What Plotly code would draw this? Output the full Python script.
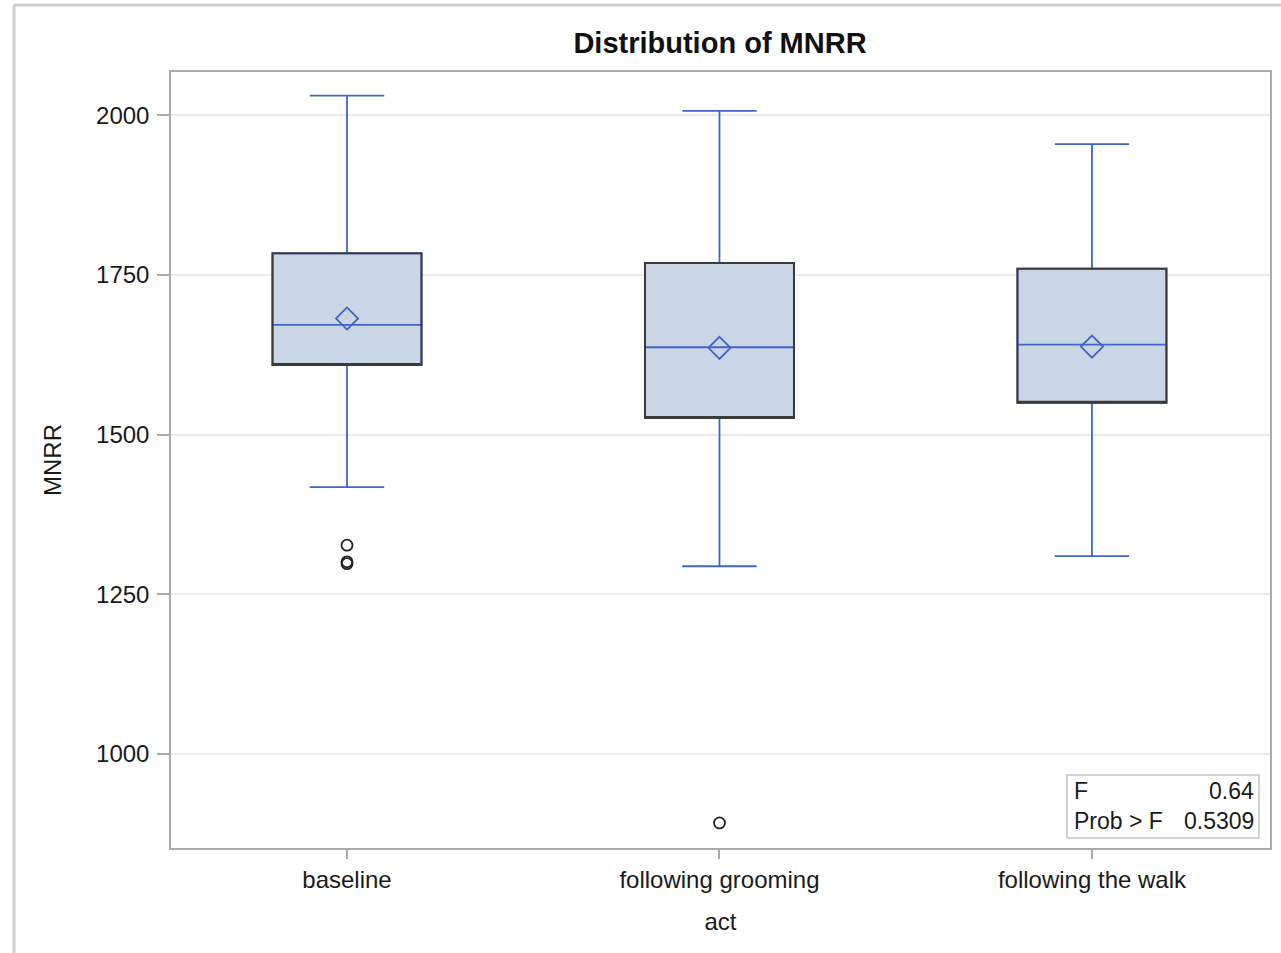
import plotly.graph_objects as go

# ---- data ----
categories = ["baseline", "following grooming", "following the walk"]
q1 = [1609, 1526, 1550]
median = [1672, 1637, 1641]
q3 = [1784, 1769, 1760]
lower_whisker = [1418, 1294, 1310]
upper_whisker = [2031, 2007, 1955]
means = [1682, 1636, 1638]
outlier_cats = ["baseline", "baseline", "baseline", "following grooming"]
outlier_vals = [1327, 1301, 1298, 892]
f_value = "0.64"
prob_f = "0.5309"
y_ticks = [1000, 1250, 1500, 1750, 2000]

W, H = 1281, 953
L, R, T, B = 171, 11, 72, 105
PW, PH = W - L - R, H - T - B

def px(x):
    return (x - L) / PW

def py(y):
    return (H - B - y) / PH

FONT = "Liberation Sans, Arial, Helvetica, sans-serif"
BLUE = "#3f66c4"
DARK = "#3a3a3a"
FILL = "#cad5e5"
AXIS = "#a7abaf"
TXT = "#1a1a1a"

fig = go.Figure()

# box with whiskers and median (blue)
fig.add_trace(go.Box(
    x=categories, q1=q1, median=median, q3=q3,
    lowerfence=lower_whisker, upperfence=upper_whisker,
    fillcolor=FILL, line=dict(color=BLUE, width=1.8),
    width=0.4, whiskerwidth=0.5, boxpoints=False, showlegend=False,
))
# dark outline of the box
fig.add_trace(go.Box(
    x=categories, q1=q1, median=q1, q3=q3,
    lowerfence=q1, upperfence=q3,
    fillcolor="rgba(0,0,0,0)", line=dict(color=DARK, width=2),
    width=0.4, whiskerwidth=0, boxpoints=False, showlegend=False,
))
# means
fig.add_trace(go.Scatter(
    x=categories, y=means, mode="markers",
    marker=dict(symbol="diamond-open", size=17, color=BLUE, line=dict(width=1.8, color=BLUE)),
    showlegend=False,
))
# outliers
fig.add_trace(go.Scatter(
    x=outlier_cats, y=outlier_vals, mode="markers",
    marker=dict(symbol="circle-open", size=11, color="#222222", line=dict(width=1.8, color="#222222")),
    showlegend=False,
))

fig.update_layout(
    width=W, height=H,
    margin=dict(l=L, r=R, t=T, b=B, autoexpand=False),
    paper_bgcolor="white", plot_bgcolor="white",
    font=dict(family=FONT, size=24, color=TXT),
    title=dict(text="<b>Distribution of MNRR</b>", x=720 / W, xanchor="center",
               y=1 - 43 / H, yanchor="middle", yref="container",
               font=dict(family=FONT, size=29, color="#111111")),
    boxmode="overlay",
    xaxis=dict(
        type="category", range=[-0.4725, 2.478],
        showline=True, mirror=True, linecolor=AXIS, linewidth=1.5,
        ticks="outside", ticklen=9, tickcolor=AXIS, tickwidth=1.5,
        showgrid=False, zeroline=False,
        tickfont=dict(size=24, color=TXT),
        title=dict(text="act", font=dict(size=24, color=TXT), standoff=22),
    ),
    yaxis=dict(
        range=[852.8, 2068], tickvals=y_ticks,
        showline=True, mirror=True, linecolor=AXIS, linewidth=1.5,
        ticks="outside", ticklen=12, tickcolor=AXIS, tickwidth=1.5,
        ticklabelstandoff=3,
        showgrid=True, gridcolor="#ebebeb", gridwidth=1.5, zeroline=False,
        tickfont=dict(size=24, color=TXT),
        title=dict(text="MNRR", font=dict(size=24, color=TXT), standoff=28),
    ),
)

# statistics inset
fig.add_shape(type="rect", xref="paper", yref="paper",
              x0=px(1067), x1=px(1259), y0=py(838), y1=py(775),
              line=dict(color="#c4c4c4", width=1.5), fillcolor="white", layer="above")
rows = [("F", f_value, 791), ("Prob > F", prob_f, 821)]
for lab, val, yy in rows:
    fig.add_annotation(xref="paper", yref="paper", x=px(1072), y=py(yy), text=lab,
                       showarrow=False, xanchor="left", yanchor="middle",
                       font=dict(size=23, color=TXT))
    fig.add_annotation(xref="paper", yref="paper", x=px(1256), y=py(yy), text=val,
                       showarrow=False, xanchor="right", yanchor="middle",
                       font=dict(size=23, color=TXT))

# outer panel frame (left and top edges)
fig.add_shape(type="line", xref="paper", yref="paper",
              x0=px(14), x1=px(14), y0=py(H + 5), y1=py(5),
              line=dict(color="#cdcdcd", width=3), layer="above")
fig.add_shape(type="line", xref="paper", yref="paper",
              x0=px(14), x1=px(W + 5), y0=py(5), y1=py(5),
              line=dict(color="#cdcdcd", width=3), layer="above")

fig.write_html("out.html")
